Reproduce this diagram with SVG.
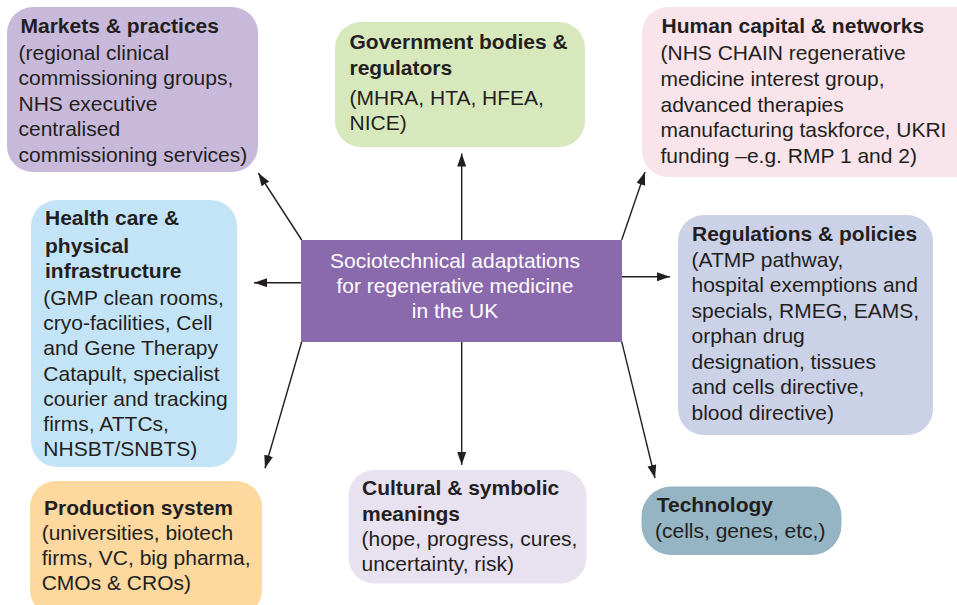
<svg xmlns="http://www.w3.org/2000/svg" width="957" height="605" viewBox="0 0 957 605">
<defs>
<style>
.t{font-family:"Liberation Sans",Arial,sans-serif;font-size:21px;fill:#231f20}
.b{font-weight:bold}
.w{fill:#ffffff}
.c{stroke:#231f20;stroke-width:1.4;fill:none;marker-end:url(#ah)}
</style>
<marker id="ah" markerUnits="userSpaceOnUse" markerWidth="14" markerHeight="10" refX="13" refY="4.5" orient="auto">
<path d="M0,0 L13,4.5 L0,9 z" fill="#231f20"/>
</marker>
</defs>
<rect width="957" height="605" fill="#ffffff"/>
<g id="connectors">
<line class="c" x1="301.7" y1="240" x2="258.3" y2="173"/>
<line class="c" x1="461.7" y1="240" x2="461.7" y2="153.5"/>
<line class="c" x1="621.7" y1="240" x2="645" y2="172"/>
<line class="c" x1="301" y1="282.7" x2="254" y2="282.7"/>
<line class="c" x1="622" y1="276.7" x2="670" y2="276.7"/>
<line class="c" x1="301.7" y1="341.7" x2="265" y2="468.3"/>
<line class="c" x1="461.7" y1="341.7" x2="461.7" y2="465"/>
<line class="c" x1="621.7" y1="341.7" x2="655" y2="478"/>
</g>
<g id="center">
<rect x="301" y="240" width="321" height="102" fill="#8a69ad"/>
<text class="t w" text-anchor="middle"><tspan x="455" y="268.3">Sociotechnical adaptations</tspan><tspan x="455" y="293.3">for regenerative medicine</tspan><tspan x="455" y="318.3">in the UK</tspan></text>
</g>
<g id="markets">
<rect x="7" y="7" width="251" height="165" rx="26" fill="#c8b9db"/>
<text class="t"><tspan class="b" x="20.5" y="33.3">Markets &amp; practices</tspan><tspan x="18.5" y="59.5">(regional clinical</tspan><tspan x="18.5" y="85">commissioning groups,</tspan><tspan x="18.5" y="110.5">NHS executive</tspan><tspan x="18.5" y="136">centralised</tspan><tspan x="18.5" y="161.5">commissioning services)</tspan></text>
</g>
<g id="government">
<rect x="335" y="22" width="250" height="125" rx="26" fill="#d8e8bd"/>
<text class="t"><tspan class="b" x="349.5" y="48.5">Government bodies &amp;</tspan><tspan class="b" x="349.5" y="75">regulators</tspan><tspan x="349.5" y="104.5">(MHRA, HTA, HFEA,</tspan><tspan x="349.5" y="130">NICE)</tspan></text>
</g>
<g id="human">
<rect x="642" y="7" width="340" height="170" rx="26" fill="#f8e4ea"/>
<text class="t"><tspan class="b" x="661.5" y="33.3">Human capital &amp; networks</tspan><tspan x="660.5" y="60">(NHS CHAIN regenerative</tspan><tspan x="660.5" y="86">medicine interest group,</tspan><tspan x="660.5" y="111.5">advanced therapies</tspan><tspan x="660.5" y="137">manufacturing taskforce, UKRI</tspan><tspan x="660.5" y="162.5">funding –e.g. RMP 1 and 2)</tspan></text>
</g>
<g id="healthcare">
<rect x="31" y="200" width="206" height="267" rx="26" fill="#c3e4f6"/>
<text class="t"><tspan class="b" x="45" y="225">Health care &amp;</tspan><tspan class="b" x="45" y="252.5">physical</tspan><tspan class="b" x="45" y="278">infrastructure</tspan><tspan x="43.3" y="304.5">(GMP clean rooms,</tspan><tspan x="43.3" y="330">cryo-facilities, Cell</tspan><tspan x="43.3" y="355">and Gene Therapy</tspan><tspan x="43.3" y="380.5">Catapult, specialist</tspan><tspan x="43.3" y="405.5">courier and tracking</tspan><tspan x="43.3" y="430.5">firms, ATTCs,</tspan><tspan x="43.3" y="455.5">NHSBT/SNBTS)</tspan></text>
</g>
<g id="regulations">
<rect x="678" y="215" width="255" height="220" rx="26" fill="#cbd1e7"/>
<text class="t"><tspan class="b" x="692" y="240.5">Regulations &amp; policies</tspan><tspan x="691.5" y="266.5">(ATMP pathway,</tspan><tspan x="691.5" y="292">hospital exemptions and</tspan><tspan x="691.5" y="317.5">specials, RMEG, EAMS,</tspan><tspan x="691.5" y="343">orphan drug</tspan><tspan x="691.5" y="368.5">designation, tissues</tspan><tspan x="691.5" y="394">and cells directive,</tspan><tspan x="691.5" y="419.5">blood directive)</tspan></text>
</g>
<g id="production">
<rect x="30" y="481" width="232" height="135" rx="26" fill="#fdd89f"/>
<text class="t"><tspan class="b" x="44" y="514.5">Production system</tspan><tspan x="41.7" y="540">(universities, biotech</tspan><tspan x="41.7" y="565">firms, VC, big pharma,</tspan><tspan x="41.7" y="590">CMOs &amp; CROs)</tspan></text>
</g>
<g id="cultural">
<rect x="348.5" y="470" width="238" height="113.5" rx="26" fill="#e8e1f0"/>
<text class="t"><tspan class="b" x="362" y="495">Cultural &amp; symbolic</tspan><tspan class="b" x="362" y="520.5">meanings</tspan><tspan x="361.5" y="545.5">(hope, progress, cures,</tspan><tspan x="361.5" y="570.5">uncertainty, risk)</tspan></text>
</g>
<g id="technology">
<rect x="641.5" y="486.5" width="200" height="68.5" rx="30" fill="#95b4c4"/>
<text class="t"><tspan class="b" x="656.7" y="511.7">Technology</tspan><tspan x="655" y="538.3">(cells, genes, etc,)</tspan></text>
</g>
</svg>
